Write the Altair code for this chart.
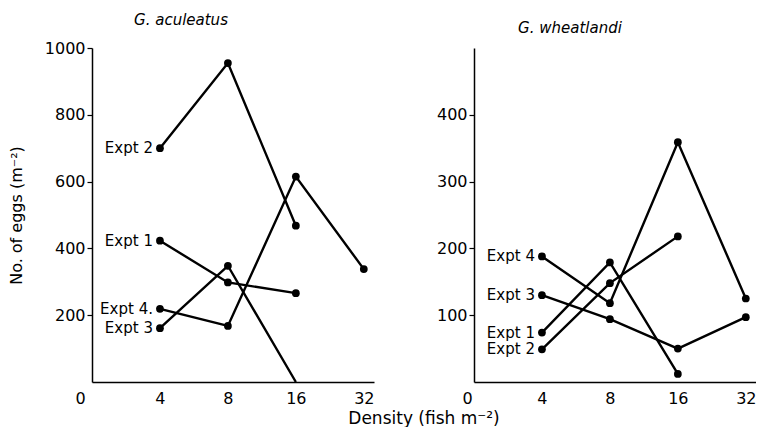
import altair as alt
import pandas as pd

densities = [4, 8, 16, 32]
x_labels = ["0", "4", "8", "16", "32"]

# G. aculeatus (eggs per m^2)
acu_expt1 = [423, 298, 266, None]
acu_expt2 = [700, 955, 468, None]
acu_expt3 = [161, 348, 0, None]
acu_expt4 = [219, 168, 615, 338]
acu_names = {"Expt 1": "Expt 1", "Expt 2": "Expt 2", "Expt 3": "Expt 3", "Expt 4": "Expt 4."}

# G. wheatlandi (eggs per m^2)
whe_expt1 = [74, 179, 12, None]
whe_expt2 = [49, 148, 218, None]
whe_expt3 = [130, 94, 50, 97]
whe_expt4 = [188, 118, 359, 125]
whe_names = {"Expt 1": "Expt 1", "Expt 2": "Expt 2", "Expt 3": "Expt 3", "Expt 4": "Expt 4"}

FONT = "DejaVu Sans"


def build(series, names):
    rows = []
    for expt, vals in series.items():
        for d, v in zip(densities, vals):
            if v is None:
                continue
            rows.append({"expt": expt, "label": names[expt],
                         "pos": densities.index(d) + 1, "eggs": v})
    return pd.DataFrame(rows)


acu = build({"Expt 1": acu_expt1, "Expt 2": acu_expt2,
             "Expt 3": acu_expt3, "Expt 4": acu_expt4}, acu_names)
whe = build({"Expt 1": whe_expt1, "Expt 2": whe_expt2,
             "Expt 3": whe_expt3, "Expt 4": whe_expt4}, whe_names)

label_expr = "[" + ",".join("'" + s + "'" for s in x_labels) + "][datum.value]"


def panel(df, title, title_dx, ymax, yticks, ytitle, yextent, zero_off):
    x = alt.X("pos:Q",
              scale=alt.Scale(domain=[0, 4.15], nice=False, zero=False),
              axis=alt.Axis(values=[0, 1, 2, 3, 4], labelExpr=label_expr,
                            ticks=False, title=None, labelPadding=8,
                            labelOffset={"condition": {"test": "datum.value == 0", "value": zero_off}, "value": 0}))
    yax = dict(values=yticks, format="d", tickSize=5, tickColor="black", tickWidth=1.2,
               labelPadding=2, minExtent=yextent, maxExtent=yextent)
    if ytitle:
        yax.update(title=ytitle, titlePadding=16, titleFontSize=16,
                   titleFont=FONT, titleFontWeight="normal", titleColor="black")
    else:
        yax.update(title=None)
    y = alt.Y("eggs:Q", scale=alt.Scale(domain=[0, ymax], nice=False),
              axis=alt.Axis(**yax))
    base = alt.Chart(df)
    line = base.mark_line(color="black", strokeWidth=2.4, clip=False).encode(
        x=x, y=y, detail="expt:N")
    pts = base.transform_filter("datum.eggs > 0").mark_circle(
        size=60, color="black", opacity=1).encode(x=x, y=y, detail="expt:N")
    lab = base.transform_filter("datum.pos == 1").mark_text(
        align="right", baseline="middle", dx=-7, fontSize=15, font=FONT,
        color="black").encode(x=x, y=y, text="label:N")
    return alt.layer(line, pts, lab).properties(
        width=282, height=334,
        title=alt.TitleParams(title, fontStyle="italic", fontWeight="normal",
                              fontSize=15, font=FONT, color="black",
                              anchor="middle", dx=title_dx, offset=12))


left = panel(acu, "G. aculeatus", -52, 1000, [200, 400, 600, 800, 1000],
             "No. of eggs (m⁻²)", 52, -17)
right = panel(whe, "G. wheatlandi", -45, 500, [100, 200, 300, 400], None, 45, -12)

chart = alt.hconcat(left, right, spacing=55).properties(
    title=alt.TitleParams("Density (fish m⁻²)", orient="bottom",
                          anchor="middle", dx=42, fontSize=17, font=FONT,
                          fontWeight="normal", color="black", offset=5),
    padding={"left": 0, "top": 5, "right": 0, "bottom": 0},
).configure_view(stroke=None).configure_axis(
    domainColor="black", domainWidth=1.5, labelFont=FONT, labelFontSize=16,
    labelColor="black", grid=False,
)

chart.save("out.html", embed_options={"renderer": "svg", "actions": False})
